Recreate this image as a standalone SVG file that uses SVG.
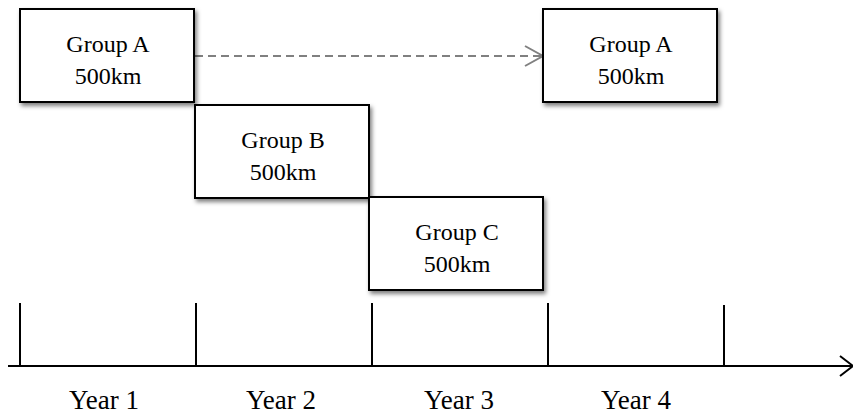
<svg xmlns="http://www.w3.org/2000/svg" width="853" height="419" viewBox="0 0 853 419">
<style>
.box{fill:#fff;stroke:#000;stroke-width:2;filter:url(#sh)}
.t{font-family:"Liberation Serif","Times New Roman",serif;font-size:24px;fill:#000;text-anchor:middle}
.y{font-family:"Liberation Serif","Times New Roman",serif;font-size:27px;fill:#000;text-anchor:middle}
.axis{stroke:#000;stroke-width:2;fill:none}
.dash{stroke:#808080;stroke-width:2;fill:none;stroke-dasharray:8 5}
.head{stroke:#808080;stroke-width:2;fill:none}
</style>
<defs>
<filter id="sh" x="-10%" y="-10%" width="130%" height="140%">
<feDropShadow dx="2" dy="3" stdDeviation="2" flood-color="#000" flood-opacity="0.5"/>
</filter>
</defs>
<rect width="853" height="419" fill="#fff"/>
<g id="connectors">
<line class="dash" x1="195" y1="56" x2="541" y2="56"/>
<polyline class="head" points="525,46 543,56 525,66"/>
</g>
<g id="groupA1">
<rect class="box" x="20" y="9" width="174" height="93"/>
<text class="t" x="108" y="52">Group A</text>
<text class="t" x="108" y="84">500km</text>
</g>
<g id="groupB">
<rect class="box" x="195" y="105" width="174" height="93"/>
<text class="t" x="283" y="148">Group B</text>
<text class="t" x="283" y="180">500km</text>
</g>
<g id="groupC">
<rect class="box" x="369" y="197" width="174" height="93"/>
<text class="t" x="457" y="240">Group C</text>
<text class="t" x="457" y="272">500km</text>
</g>
<g id="groupA2">
<rect class="box" x="543" y="9" width="174" height="93"/>
<text class="t" x="631" y="52">Group A</text>
<text class="t" x="631" y="84">500km</text>
</g>
<g id="timeline">
<line class="axis" x1="8" y1="366" x2="852" y2="366"/>
<polyline class="axis" points="840,356 853,366 840,376"/>
<line class="axis" x1="20" y1="303" x2="20" y2="366"/>
<line class="axis" x1="196" y1="303" x2="196" y2="366"/>
<line class="axis" x1="372" y1="303" x2="372" y2="366"/>
<line class="axis" x1="548" y1="303" x2="548" y2="366"/>
<line class="axis" x1="724" y1="305" x2="724" y2="366"/>
<text class="y" x="104" y="409">Year 1</text>
<text class="y" x="281" y="409">Year 2</text>
<text class="y" x="459" y="409">Year 3</text>
<text class="y" x="636" y="409">Year 4</text>
</g>
</svg>
